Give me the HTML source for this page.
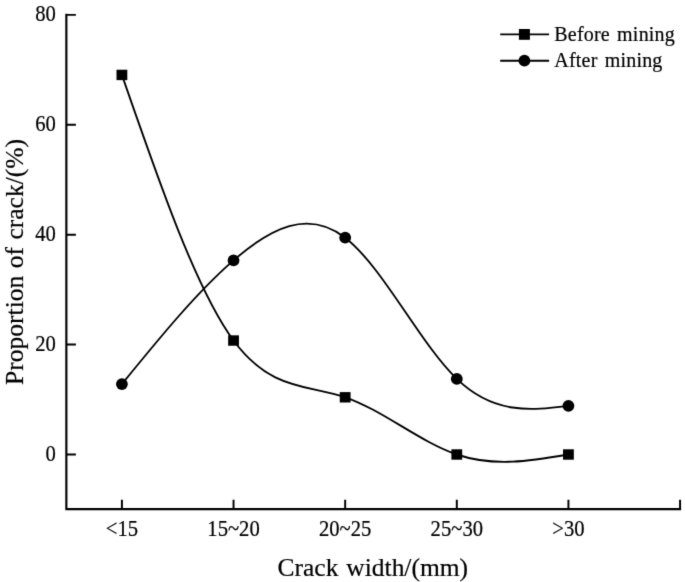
<!DOCTYPE html><html><head><meta charset="utf-8"><style>html,body{margin:0;padding:0;background:#fff;}svg{display:block;}text{font-family:"Liberation Serif",serif;fill:#000;stroke:#000;stroke-width:0.2px;}</style></head><body>
<svg width="685" height="582" viewBox="0 0 685 582">
<defs><filter id="b" x="0" y="0" width="685" height="582" filterUnits="userSpaceOnUse" color-interpolation-filters="sRGB"><feConvolveMatrix order="3" kernelMatrix="0.0113 0.0838 0.0113 0.0838 0.6193 0.0838 0.0113 0.0838 0.0113" divisor="1" edgeMode="duplicate" preserveAlpha="true"/></filter></defs>
<g filter="url(#b)">
<rect width="685" height="582" fill="#fff"/>
<path d="M66.35 14.86 V509.15 H680.05" fill="none" stroke="#000" stroke-width="2.15" stroke-linecap="square" stroke-linejoin="miter"/>
<path d="M66.35 454.5 H75.9 M66.35 344.59 H75.9 M66.35 234.68 H75.9 M66.35 124.77 H75.9 M66.35 14.86 H75.9 M121.91 509.15 V499.7 M233.54 509.15 V499.7 M345.17 509.15 V499.7 M456.8 509.15 V499.7 M568.43 509.15 V499.7 M680.06 509.15 V499.7" fill="none" stroke="#000" stroke-width="1.95"/>
<text transform="translate(55.8 460.7) scale(0.96 1.05)" font-size="21.5" text-anchor="end">0</text>
<text transform="translate(55.8 350.79) scale(0.96 1.05)" font-size="21.5" text-anchor="end">20</text>
<text transform="translate(55.8 240.88) scale(0.96 1.05)" font-size="21.5" text-anchor="end">40</text>
<text transform="translate(55.8 130.97) scale(0.96 1.05)" font-size="21.5" text-anchor="end">60</text>
<text transform="translate(55.8 21.06) scale(0.96 1.05)" font-size="21.5" text-anchor="end">80</text>
<text transform="translate(121.91 535.6) scale(0.96 1.05)" font-size="21.5" text-anchor="middle">&lt;15</text>
<text transform="translate(233.54 535.6) scale(0.96 1.05)" font-size="21.5" text-anchor="middle">15~20</text>
<text transform="translate(345.17 535.6) scale(0.96 1.05)" font-size="21.5" text-anchor="middle">20~25</text>
<text transform="translate(456.8 535.6) scale(0.96 1.05)" font-size="21.5" text-anchor="middle">25~30</text>
<text transform="translate(568.43 535.6) scale(0.96 1.05)" font-size="21.5" text-anchor="middle">&gt;30</text>
<text transform="translate(372.8 575.6) scale(1.02 1.04)" font-size="25" text-anchor="middle" word-spacing="1.5">Crack width/(mm)</text>
<text transform="translate(23.4 261.9) rotate(-90) scale(1.022 1)" font-size="25" text-anchor="middle" word-spacing="1">Proportion of crack/(%)</text>
<path d="M121.91 74.9258 C159.12 182.4548 196.33 289.9837 233.54 340.5233 C270.75 391.063 307.96 384.6133 345.17 397.2918 C382.38 409.9704 419.59 441.7773 456.8 454.5 C494.01 467.2227 531.22 460.8614 568.43 454.5" fill="none" stroke="#000" stroke-width="1.85"/>
<rect x="116.51" y="69.7258" width="10.8" height="10.4" fill="#000"/>
<rect x="228.14" y="335.3233" width="10.8" height="10.4" fill="#000"/>
<rect x="339.77" y="392.0918" width="10.8" height="10.4" fill="#000"/>
<rect x="451.4" y="449.3" width="10.8" height="10.4" fill="#000"/>
<rect x="563.03" y="449.3" width="10.8" height="10.4" fill="#000"/>
<path d="M121.91 384.1026 C159.12 338.4314 196.33 292.7602 233.54 260.3989 C270.75 228.0376 307.96 208.9862 345.17 237.7025 C382.38 266.4188 419.59 342.9028 456.8 378.8819 C494.01 414.8611 531.22 410.3355 568.43 405.8099" fill="none" stroke="#000" stroke-width="1.85"/>
<circle cx="121.91" cy="384.1026" r="5.9" fill="#000"/>
<circle cx="233.54" cy="260.3989" r="5.9" fill="#000"/>
<circle cx="345.17" cy="237.7025" r="5.9" fill="#000"/>
<circle cx="456.8" cy="378.8819" r="5.9" fill="#000"/>
<circle cx="568.43" cy="405.8099" r="5.9" fill="#000"/>
<path d="M500.2 34.4 H549.1" stroke="#000" stroke-width="1.85"/>
<rect x="518.9" y="29" width="11" height="10.8" fill="#000"/>
<text transform="translate(554.3 40.9)" font-size="20" letter-spacing="0.2" word-spacing="2">Before mining</text>
<path d="M500.2 60.7 H549.1" stroke="#000" stroke-width="1.85"/>
<circle cx="524.4" cy="60.7" r="5.9" fill="#000"/>
<text transform="translate(554.3 67.1)" font-size="20" letter-spacing="0.2" word-spacing="2">After mining</text>
</g>
</svg></body></html>
